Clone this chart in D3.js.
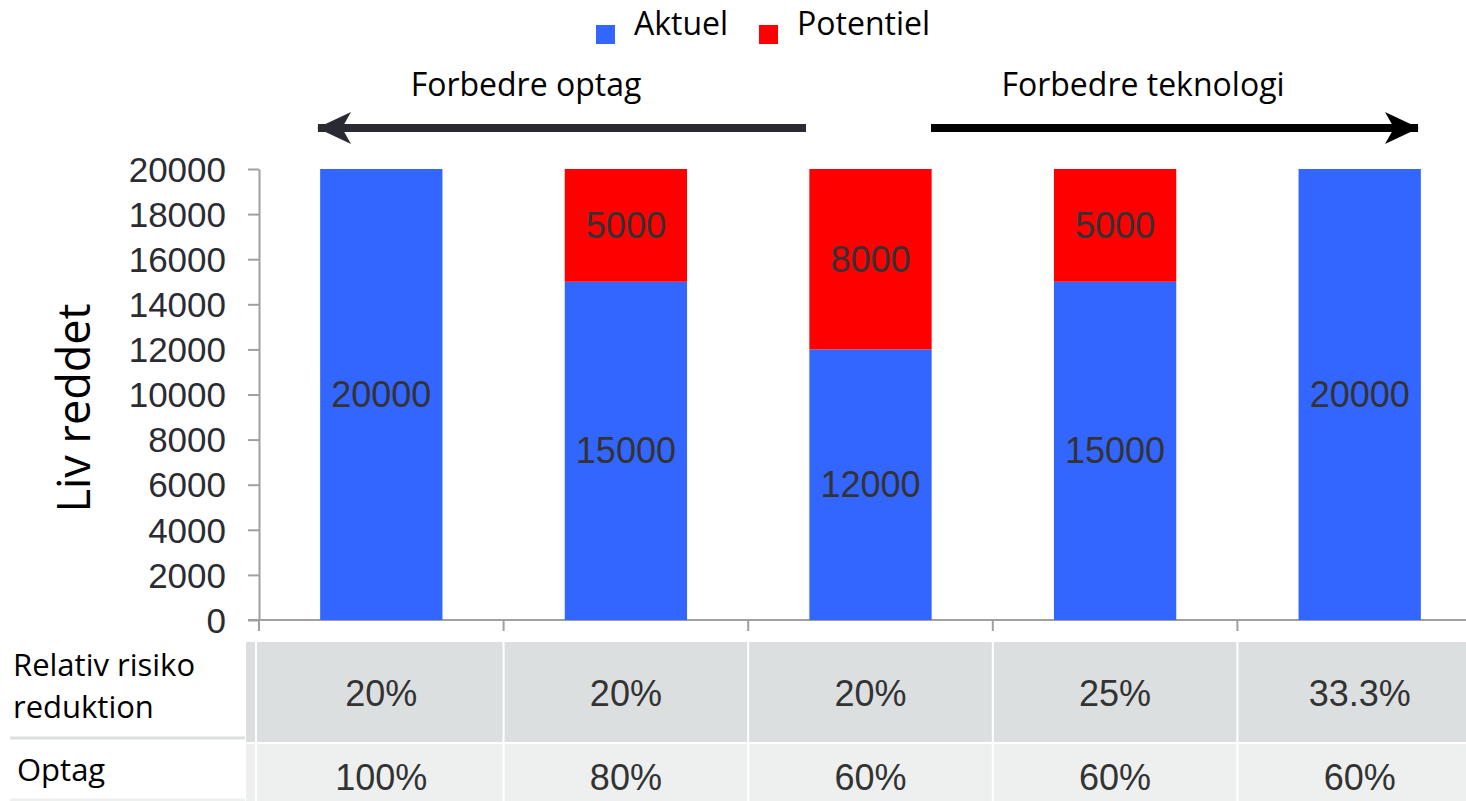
<!DOCTYPE html>
<html>
<head>
<meta charset="utf-8">
<script src="https://cdn.jsdelivr.net/npm/d3@7"></script>
<style>
  body { margin: 0; background: #fff; }
  svg { display: block; }
</style>
</head>
<body>
<div id="chart"></div>
<script>
var svg_width = 1466,
    svg_height = 801;

// data
var categories = ['A', 'B', 'C', 'D', 'E'];
var aktuel = [20000, 15000, 12000, 15000, 20000];
var potentiel = [0, 5000, 8000, 5000, 0];
var riskLabels = ['20%', '20%', '20%', '25%', '33.3%'];
var optagLabels = ['100%', '80%', '60%', '60%', '60%'];
var yTicks = [0, 2000, 4000, 6000, 8000, 10000, 12000, 14000, 16000, 18000, 20000];

var blue = '#3366ff', red = '#ff0000';
var numFont = 'Liberation Sans, Arial, sans-serif';
var txtFont = 'Open Sans, sans-serif';

var svg = d3.select('#chart').append('svg')
    .attr('width', svg_width)
    .attr('height', svg_height);

var xScale = d3.scaleBand()
    .domain(categories)
    .range([259, 1482])
    .paddingInner(0.5)
    .paddingOuter(0.25);

var yScale = d3.scaleLinear()
    .domain([0, 20000])
    .range([620, 169]);

// y axis
var yAxis = svg.append('g')
    .attr('transform', 'translate(259,0)')
    .call(d3.axisLeft(yScale).tickValues(yTicks).tickFormat(d3.format('d'))
        .tickSize(11).tickSizeOuter(0).tickPadding(22));
yAxis.select('.domain').attr('stroke', '#a0a0a0').attr('stroke-width', 2);
yAxis.selectAll('.tick line').attr('stroke', '#a0a0a0').attr('stroke-width', 2);
yAxis.selectAll('.tick text')
    .attr('font-family', numFont)
    .attr('font-size', 35)
    .attr('fill', '#2b2b33')
    .attr('dy', '0.35em');

// x axis line + boundary ticks
svg.append('line')
    .attr('x1', 248).attr('x2', svg_width)
    .attr('y1', 620).attr('y2', 620)
    .attr('stroke', '#a0a0a0').attr('stroke-width', 2);
var step = xScale.step();
svg.append('g').selectAll('line')
    .data(categories)
    .enter().append('line')
    .attr('x1', d => xScale(d) - xScale.bandwidth() / 2)
    .attr('x2', d => xScale(d) - xScale.bandwidth() / 2)
    .attr('y1', 620).attr('y2', 631)
    .attr('stroke', '#a0a0a0').attr('stroke-width', 2);

// bars
var bars = svg.append('g');
bars.selectAll('.aktuel')
    .data(categories)
    .enter().append('rect')
    .attr('class', 'aktuel')
    .attr('x', d => xScale(d))
    .attr('width', xScale.bandwidth())
    .attr('y', (d, i) => yScale(aktuel[i]))
    .attr('height', (d, i) => yScale(0) - yScale(aktuel[i]))
    .attr('fill', blue);
bars.selectAll('.potentiel')
    .data(categories)
    .enter().append('rect')
    .attr('class', 'potentiel')
    .attr('x', d => xScale(d))
    .attr('width', xScale.bandwidth())
    .attr('y', (d, i) => yScale(aktuel[i] + potentiel[i]))
    .attr('height', (d, i) => yScale(aktuel[i]) - yScale(aktuel[i] + potentiel[i]))
    .attr('fill', red);

// bar labels
var labels = svg.append('g')
    .attr('font-family', numFont)
    .attr('font-size', 36)
    .attr('fill', '#333333')
    .attr('text-anchor', 'middle');
labels.selectAll('.la')
    .data(categories)
    .enter().append('text')
    .attr('x', d => xScale(d) + xScale.bandwidth() / 2)
    .attr('y', (d, i) => yScale(aktuel[i] / 2))
    .attr('dy', '0.35em')
    .text((d, i) => aktuel[i]);
labels.selectAll('.lp')
    .data(categories.filter((d, i) => potentiel[i] > 0))
    .enter().append('text')
    .attr('x', d => xScale(d) + xScale.bandwidth() / 2)
    .attr('y', d => {
        var i = categories.indexOf(d);
        return yScale(aktuel[i] + potentiel[i] / 2);
    })
    .attr('dy', '0.35em')
    .text(d => potentiel[categories.indexOf(d)]);

// y title
svg.append('text')
    .attr('transform', 'translate(90,408) rotate(-90)')
    .attr('text-anchor', 'middle')
    .attr('font-family', txtFont)
    .attr('font-size', 45)
    .attr('fill', '#000')
    .text('Liv reddet');

// legend
var legend = [{ name: 'Aktuel', color: blue, x: 596 }, { name: 'Potentiel', color: red, x: 759 }];
var lg = svg.append('g').selectAll('g').data(legend).enter().append('g');
lg.append('rect')
    .attr('x', d => d.x).attr('y', 25)
    .attr('width', 19).attr('height', 19)
    .attr('fill', d => d.color);
lg.append('text')
    .attr('x', d => d.x + 38).attr('y', 35)
    .attr('font-family', txtFont)
    .attr('font-size', 32)
    .attr('fill', '#000')
    .text(d => d.name);

// arrows
var defs = svg.append('defs');
function arrowHead(id, color) {
    defs.append('marker')
        .attr('id', id)
        .attr('viewBox', '0 0 34 34')
        .attr('refX', 33).attr('refY', 17)
        .attr('markerWidth', 34).attr('markerHeight', 34)
        .attr('markerUnits', 'userSpaceOnUse')
        .attr('orient', 'auto')
        .append('path')
        .attr('d', 'M0,1 L34,17 L0,33 L9,17 Z')
        .attr('fill', color);
}
arrowHead('headL', '#2a2a33');
arrowHead('headR', '#000');
svg.append('line')
    .attr('x1', 806).attr('x2', 318)
    .attr('y1', 128).attr('y2', 128)
    .attr('stroke', '#2a2a33').attr('stroke-width', 8)
    .attr('marker-end', 'url(#headL)');
svg.append('line')
    .attr('x1', 931).attr('x2', 1418)
    .attr('y1', 128).attr('y2', 128)
    .attr('stroke', '#000').attr('stroke-width', 8)
    .attr('marker-end', 'url(#headR)');
svg.append('text')
    .attr('x', 526).attr('y', 96)
    .attr('text-anchor', 'middle')
    .attr('font-family', txtFont).attr('font-size', 32)
    .text('Forbedre optag');
svg.append('text')
    .attr('x', 1143).attr('y', 96)
    .attr('text-anchor', 'middle')
    .attr('font-family', txtFont).attr('font-size', 32)
    .text('Forbedre teknologi');

// table
var rows = [
    { labels: riskLabels, y: 642, h: 100, fill: '#dcdfdf', ty: 706 },
    { labels: optagLabels, y: 744, h: 57, fill: '#eef0ef', ty: 790 }
];
rows.forEach(function (r) {
    svg.append('rect')
        .attr('x', 246).attr('y', r.y).attr('width', 9).attr('height', r.h)
        .attr('fill', r.fill);
    svg.append('g').selectAll('rect')
        .data(categories)
        .enter().append('rect')
        .attr('x', (d, i) => xScale(d) - xScale.bandwidth() / 2 + (i === 0 ? -2 : 1))
        .attr('width', (d, i) => step - (i === 0 ? -1 : 2))
        .attr('y', r.y).attr('height', r.h)
        .attr('fill', r.fill);
    svg.append('g').selectAll('text')
        .data(categories)
        .enter().append('text')
        .attr('x', d => xScale(d) + xScale.bandwidth() / 2)
        .attr('y', r.ty)
        .attr('text-anchor', 'middle')
        .attr('font-family', numFont).attr('font-size', 36)
        .attr('fill', '#333333')
        .text((d, i) => r.labels[i]);
});
svg.append('line')
    .attr('x1', 10).attr('x2', 245).attr('y1', 738).attr('y2', 738)
    .attr('stroke', '#dcdfdf').attr('stroke-width', 3);
svg.append('line')
    .attr('x1', 10).attr('x2', 245).attr('y1', 800).attr('y2', 800)
    .attr('stroke', '#eef0ef').attr('stroke-width', 3);
var rowText = svg.append('g')
    .attr('font-family', txtFont).attr('font-size', 31).attr('fill', '#000');
rowText.append('text').attr('x', 13).attr('y', 676).text('Relativ risiko');
rowText.append('text').attr('x', 13).attr('y', 718).text('reduktion');
rowText.append('text').attr('x', 17).attr('y', 781).text('Optag');
</script>
</body>
</html>
